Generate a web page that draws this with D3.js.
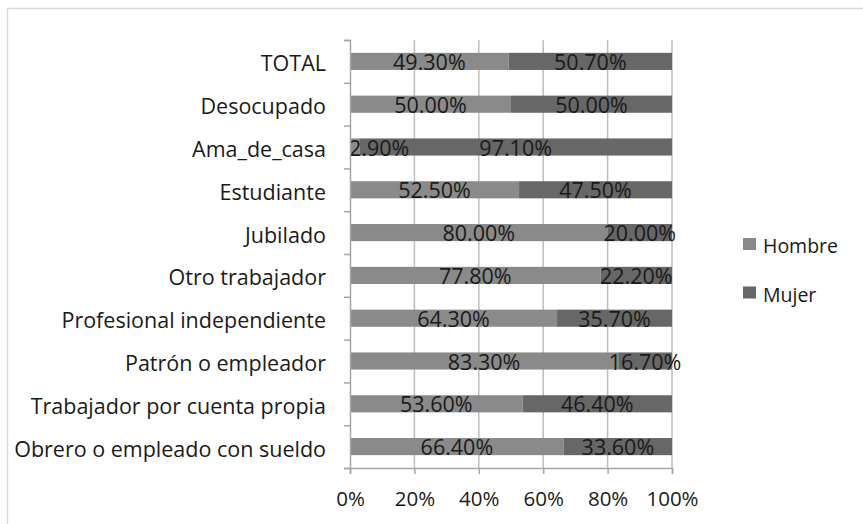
<!DOCTYPE html>
<head>
  <script src="https://d3js.org/d3.v7.min.js"></script>
  <style>
    body { margin: 0; background: #fff; }
    svg text { font-family: "Open Sans", sans-serif; fill: #1a1a1a; }
  </style>
</head>
<body>
  <script type="text/javascript">
    var w = 863;
    var h = 524;

    var categories = ["TOTAL", "Desocupado", "Ama_de_casa", "Estudiante", "Jubilado",
                      "Otro trabajador", "Profesional independiente", "Patrón o empleador",
                      "Trabajador por cuenta propia", "Obrero o empleado con sueldo"];
    var hombre = [49.3, 50.0, 2.9, 52.5, 80.0, 77.8, 64.3, 83.3, 53.6, 66.4];
    var mujer  = [50.7, 50.0, 97.1, 47.5, 20.0, 22.2, 35.7, 16.7, 46.4, 33.6];
    var series = ["Hombre", "Mujer"];
    var colors = ["#8a8a8a", "#676767"];
    var xTicks = [0, 20, 40, 60, 80, 100];

    var svg = d3.select("body")
      .append("svg")
      .attr("width", w)
      .attr("height", h);

    // chart border
    svg.append("rect")
      .attr("x", 7.5).attr("y", 8.5)
      .attr("width", w).attr("height", h)
      .attr("fill", "none")
      .attr("stroke", "#d9d9d9")
      .attr("stroke-width", 1.5);

    var xScale = d3.scaleLinear()
                   .domain([0, 100])
                   .range([350, 672]);

    var yScale = d3.scaleBand()
                   .domain(categories)
                   .range([40, 468])
                   .paddingInner(0.6)
                   .paddingOuter(0.3);

    // gridlines
    svg.selectAll("line.grid")
      .data(xTicks.slice(1))
      .enter()
      .append("line")
      .attr("class", "grid")
      .attr("x1", function(d){ return xScale(d); })
      .attr("x2", function(d){ return xScale(d); })
      .attr("y1", 40)
      .attr("y2", 468)
      .attr("stroke", "#bdbdbd")
      .attr("stroke-width", 1.5);

    var rows = categories.map(function(c, i){
      return [
        {cat: c, s: 0, x0: 0, v: hombre[i]},
        {cat: c, s: 1, x0: hombre[i], v: mujer[i]}
      ];
    });
    var segs = [].concat.apply([], rows);

    svg.selectAll("rect.bar")
      .data(segs)
      .enter()
      .append("rect")
      .attr("class", "bar")
      .attr("x", function(d){ return xScale(d.x0); })
      .attr("y", function(d){ return yScale(d.cat); })
      .attr("width", function(d){ return xScale(d.x0 + d.v) - xScale(d.x0); })
      .attr("height", yScale.bandwidth())
      .attr("fill", function(d){ return colors[d.s]; });

    svg.selectAll("text.val")
      .data(segs)
      .enter()
      .append("text")
      .attr("class", "val")
      .attr("x", function(d){ return xScale(d.x0 + d.v / 2); })
      .attr("y", function(d){ return yScale(d.cat) + yScale.bandwidth() / 2 + 8.5; })
      .attr("text-anchor", "middle")
      .style("font-size", "21.5px")
      .text(function(d){ return d.v.toFixed(2) + "%"; })
      .each(function(d){
        // keep labels of tiny segments from running past the axis
        var len = this.getComputedTextLength();
        var cx = xScale(d.x0 + d.v / 2);
        if (cx - len / 2 < xScale(0)) {
          d3.select(this).attr("text-anchor", "start").attr("x", xScale(0) - 1);
        }
      });

    // y axis
    var yAxis = d3.axisLeft(d3.scaleLinear().domain([0, 10]).range([40, 468]))
                  .ticks(10)
                  .tickSize(6)
                  .tickFormat("");
    var gy = svg.append("g")
      .attr("transform", "translate(350,0)")
      .call(yAxis);
    gy.select(".domain").attr("stroke", "#a6a6a6").attr("stroke-width", 1.5);
    gy.selectAll(".tick line").attr("stroke", "#a6a6a6").attr("stroke-width", 1.5);

    svg.selectAll("text.cat")
      .data(categories)
      .enter()
      .append("text")
      .attr("class", "cat")
      .attr("x", 326)
      .attr("y", function(d){ return yScale(d) + yScale.bandwidth() / 2 + 10; })
      .attr("text-anchor", "end")
      .style("font-size", "21.5px")
      .text(function(d){ return d; });

    // x axis
    var xAxis = d3.axisBottom(xScale)
                  .tickValues(xTicks)
                  .tickSize(6)
                  .tickPadding(17)
                  .tickFormat(function(d){ return d + "%"; });
    var gx = svg.append("g")
      .attr("transform", "translate(0,468)")
      .call(xAxis);
    gx.select(".domain").attr("stroke", "#a6a6a6").attr("stroke-width", 1.5);
    gx.selectAll(".tick line").attr("stroke", "#a6a6a6").attr("stroke-width", 1.5);
    gx.selectAll(".tick text")
      .style("font-size", "20.5px")
      .style("font-family", "Open Sans, sans-serif")
      .attr("fill", "#1a1a1a");

    // legend
    var legend = svg.selectAll("g.legend")
      .data(series)
      .enter()
      .append("g")
      .attr("class", "legend")
      .attr("transform", function(d, i){ return "translate(743," + (238 + i * 48.5) + ")"; });
    legend.append("rect")
      .attr("width", 13).attr("height", 12)
      .attr("fill", function(d, i){ return colors[i]; });
    legend.append("text")
      .attr("x", 20).attr("y", 15)
      .style("font-size", "19.5px")
      .text(function(d){ return d; });
  </script>
</body>
